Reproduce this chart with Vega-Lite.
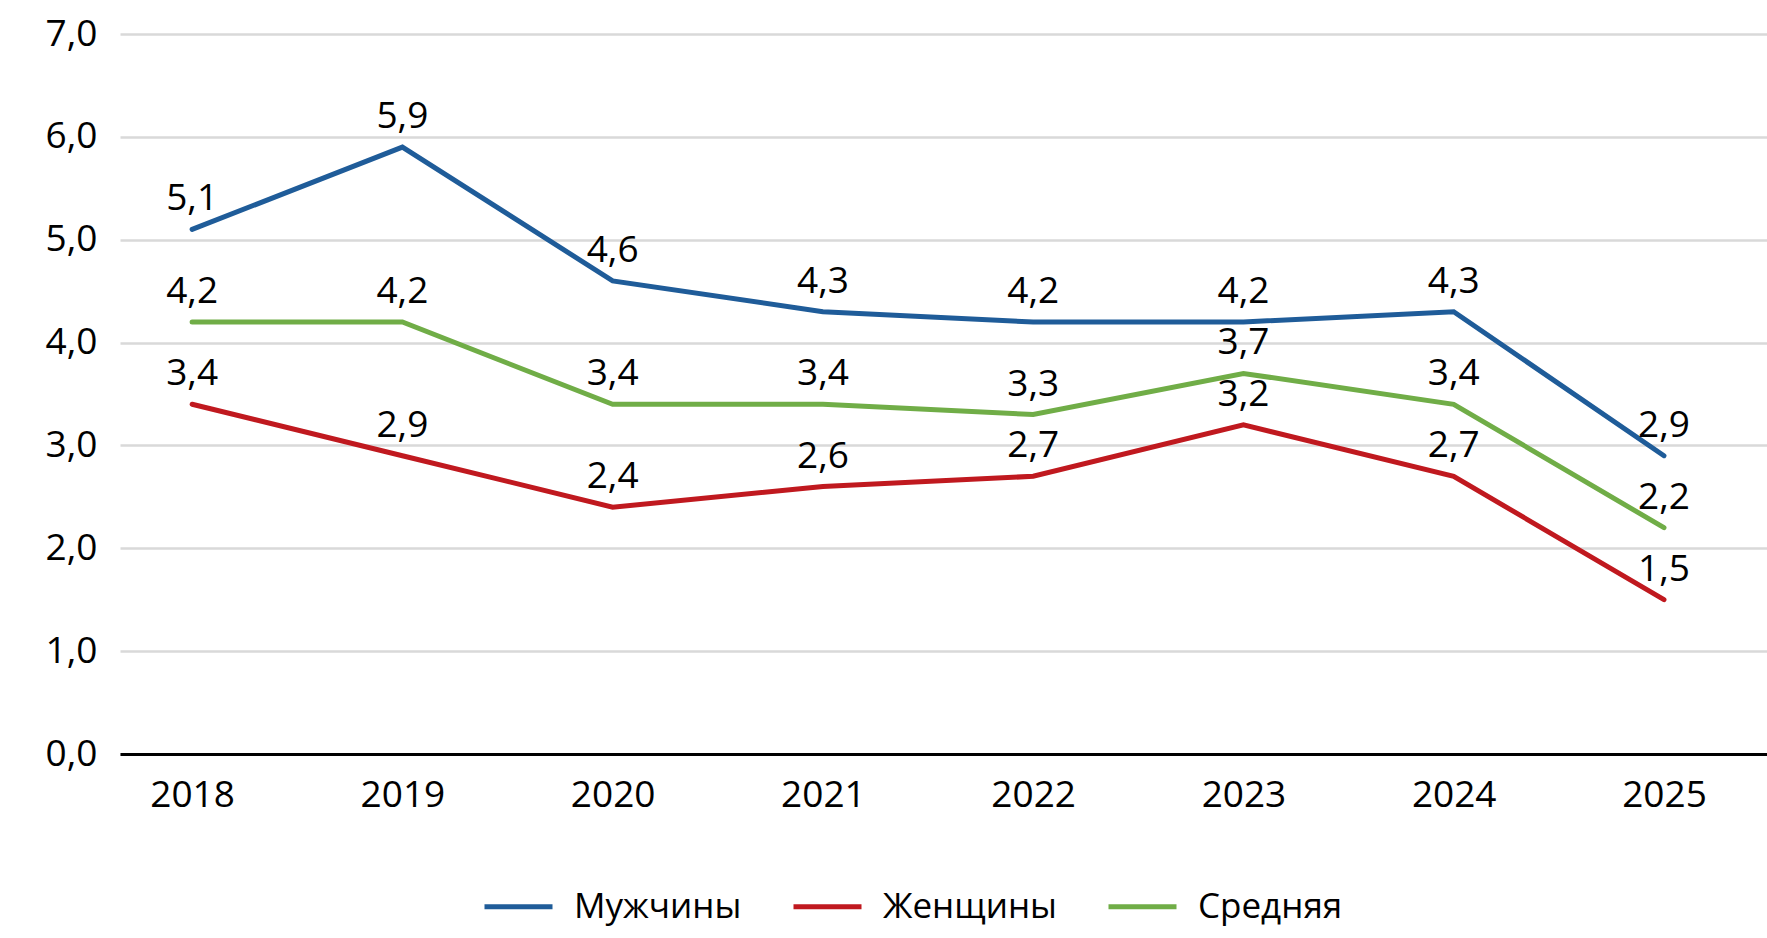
{
  "$schema": "https://vega.github.io/schema/vega-lite/v6.json",
  "width": 1647,
  "height": 720,
  "autosize": {"type": "none"},
  "padding": {"left": 120, "top": 34, "right": 0, "bottom": 184},
  "background": "white",
  "config": {
    "locale": {"number": {"decimal": ",", "thousands": " ", "grouping": [3], "currency": ["", ""]}},
    "view": {"stroke": null},
    "font": "Open Sans"
  },
  "data": {
    "values": [
      {"year": 2018, "series": "Мужчины", "value": 5.1},
      {"year": 2019, "series": "Мужчины", "value": 5.9},
      {"year": 2020, "series": "Мужчины", "value": 4.6},
      {"year": 2021, "series": "Мужчины", "value": 4.3},
      {"year": 2022, "series": "Мужчины", "value": 4.2},
      {"year": 2023, "series": "Мужчины", "value": 4.2},
      {"year": 2024, "series": "Мужчины", "value": 4.3},
      {"year": 2025, "series": "Мужчины", "value": 2.9},
      {"year": 2018, "series": "Женщины", "value": 3.4},
      {"year": 2019, "series": "Женщины", "value": 2.9},
      {"year": 2020, "series": "Женщины", "value": 2.4},
      {"year": 2021, "series": "Женщины", "value": 2.6},
      {"year": 2022, "series": "Женщины", "value": 2.7},
      {"year": 2023, "series": "Женщины", "value": 3.2},
      {"year": 2024, "series": "Женщины", "value": 2.7},
      {"year": 2025, "series": "Женщины", "value": 1.5},
      {"year": 2018, "series": "Средняя", "value": 4.2},
      {"year": 2019, "series": "Средняя", "value": 4.2},
      {"year": 2020, "series": "Средняя", "value": 3.4},
      {"year": 2021, "series": "Средняя", "value": 3.4},
      {"year": 2022, "series": "Средняя", "value": 3.3},
      {"year": 2023, "series": "Средняя", "value": 3.7},
      {"year": 2024, "series": "Средняя", "value": 3.4},
      {"year": 2025, "series": "Средняя", "value": 2.2}
    ]
  },
  "encoding": {
    "x": {
      "field": "year",
      "type": "quantitative",
      "scale": {"domain": [2017.657, 2025.49], "nice": false, "zero": false},
      "axis": {
        "values": [2018, 2019, 2020, 2021, 2022, 2023, 2024, 2025],
        "format": "d",
        "title": null,
        "grid": false,
        "ticks": false,
        "domainColor": "#000000",
        "domainWidth": 3,
        "labelFontSize": 37,
        "labelColor": "#000000",
        "labelFont": "Open Sans",
        "labelPadding": 23,
        "labelFlush": false
      }
    },
    "y": {
      "field": "value",
      "type": "quantitative",
      "scale": {"domain": [0, 7], "nice": false},
      "axis": {
        "values": [0, 1, 2, 3, 4, 5, 6, 7],
        "format": ".1f",
        "title": null,
        "domain": false,
        "ticks": false,
        "gridColor": "#d9d9d9",
        "gridWidth": 2.5,
        "labelFontSize": 37,
        "labelColor": "#000000",
        "labelFont": "Open Sans",
        "labelPadding": 23
      }
    },
    "color": {
      "field": "series",
      "type": "nominal",
      "scale": {
        "domain": ["Мужчины", "Женщины", "Средняя"],
        "range": ["#1F5C99", "#C0191F", "#70AD47"]
      },
      "legend": {
        "title": null,
        "orient": "none",
        "direction": "horizontal",
        "legendX": 362,
        "legendY": 836,
        "symbolType": "stroke",
        "symbolSize": 4624,
        "symbolStrokeWidth": 5,
        "labelFontSize": 35,
        "labelFont": "Open Sans",
        "labelColor": "#000000",
        "labelOffset": 19,
        "labelLimit": 500,
        "columnPadding": 41,
        "padding": 0
      }
    }
  },
  "layer": [
    {
      "mark": {"type": "line", "strokeWidth": 5, "strokeCap": "round"}
    },
    {
      "mark": {"type": "text", "dy": -30, "fontSize": 37, "font": "Open Sans", "color": "#000000", "baseline": "middle"},
      "encoding": {
        "text": {"field": "value", "type": "quantitative", "format": ".1f"},
        "color": {"value": "#000000"}
      }
    }
  ]
}
